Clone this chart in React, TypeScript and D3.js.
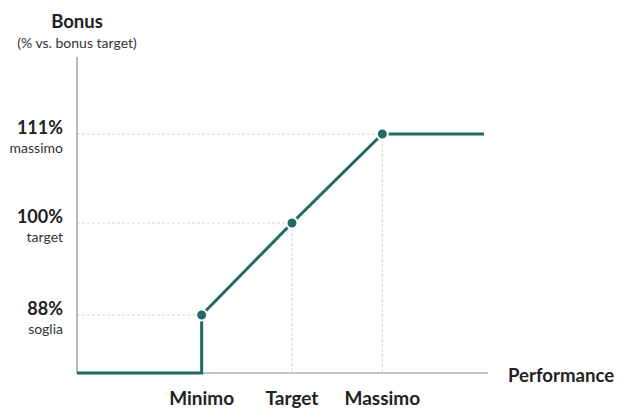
import * as d3 from "d3"

const perfLabels = ["Minimo", "Target", "Massimo"]
const perfValues = [80, 100, 120]
const bonusTicks = [88, 100, 111]
const bonusTickLabels = ["88%", "100%", "111%"]
const bonusSubLabels = ["soglia", "target", "massimo"]
// curve: flat at zero until minimo, jump to soglia, linear to massimo, cap
const curveX = [52.4, 80, 80, 100, 120, 142.5]
const curveY = [80.6, 80.6, 88, 100, 111, 111]
const markerIdx = [2, 3, 4]

const W = 620, H = 410
const COLOR = "#1f6a62"
const FONT = "Lato, 'Open Sans', sans-serif"

export default function App() {
  const x = d3.scaleLinear().domain([52.4, 143.4]).range([77, 488])
  // piecewise: the tick levels are not evenly spaced in the original
  const y = d3.scaleLinear().domain([80.6, 88, 100, 111]).range([373, 315, 223, 134])
  const line = d3.line<number>().x(i => x(curveX[i])).y(i => y(curveY[i]))
  const x0 = x(52.4), yBase = y(80.6)
  return (
    <svg width={W} height={H} style={{ position: "absolute", left: 0, top: 0, fontFamily: FONT }}>
      <rect width={W} height={H} fill="#fff" />
      {/* grid guides */}
      {markerIdx.map(i => (
        <g key={i}>
          <line x1={x0} x2={x(curveX[i])} y1={y(curveY[i])} y2={y(curveY[i])} stroke="#d6d6d6" strokeDasharray="3,2" />
          {i > 2 && <line x1={x(curveX[i])} x2={x(curveX[i])} y1={y(curveY[i])} y2={yBase} stroke="#d6d6d6" strokeDasharray="3,2" />}
        </g>
      ))}
      {/* axes */}
      <line x1={x0} x2={x0} y1={57} y2={yBase} stroke="#8a8a8a" strokeWidth={1.2} />
      <line x1={x0} x2={488} y1={yBase} y2={yBase} stroke="#8a8a8a" strokeWidth={1.2} />
      <text x={x0} y={28} textAnchor="middle" fontWeight="bold" fontSize={18.5} fill="#222">Bonus</text>
      <text x={x0} y={48} textAnchor="middle" fontSize={14} fill="#333">(% vs. bonus target)</text>
      <text x={508} y={382} fontWeight="bold" fontSize={18.6} fill="#222">Performance</text>
      {bonusTicks.map((v, i) => (
        <g key={v}>
          <text x={63} y={y(v) + 0} textAnchor="end" fontWeight="bold" fontSize={18} fill="#222">{bonusTickLabels[i]}</text>
          <text x={63} y={y(v) + 19} textAnchor="end" fontSize={14} fill="#333">{bonusSubLabels[i]}</text>
        </g>
      ))}
      {perfValues.map((v, i) => (
        <text key={v} x={x(v)} y={405} textAnchor="middle" fontWeight="bold" fontSize={19} fill="#222">{perfLabels[i]}</text>
      ))}
      {/* curve */}
      <path d={line(curveX.map((_, i) => i)) || ""} fill="none" stroke={COLOR} strokeWidth={3} />
      {markerIdx.map(i => (
        <circle key={i} cx={x(curveX[i])} cy={y(curveY[i])} r={5.5} fill={COLOR} stroke="#fff" strokeWidth={2} />
      ))}
    </svg>
  )
}
